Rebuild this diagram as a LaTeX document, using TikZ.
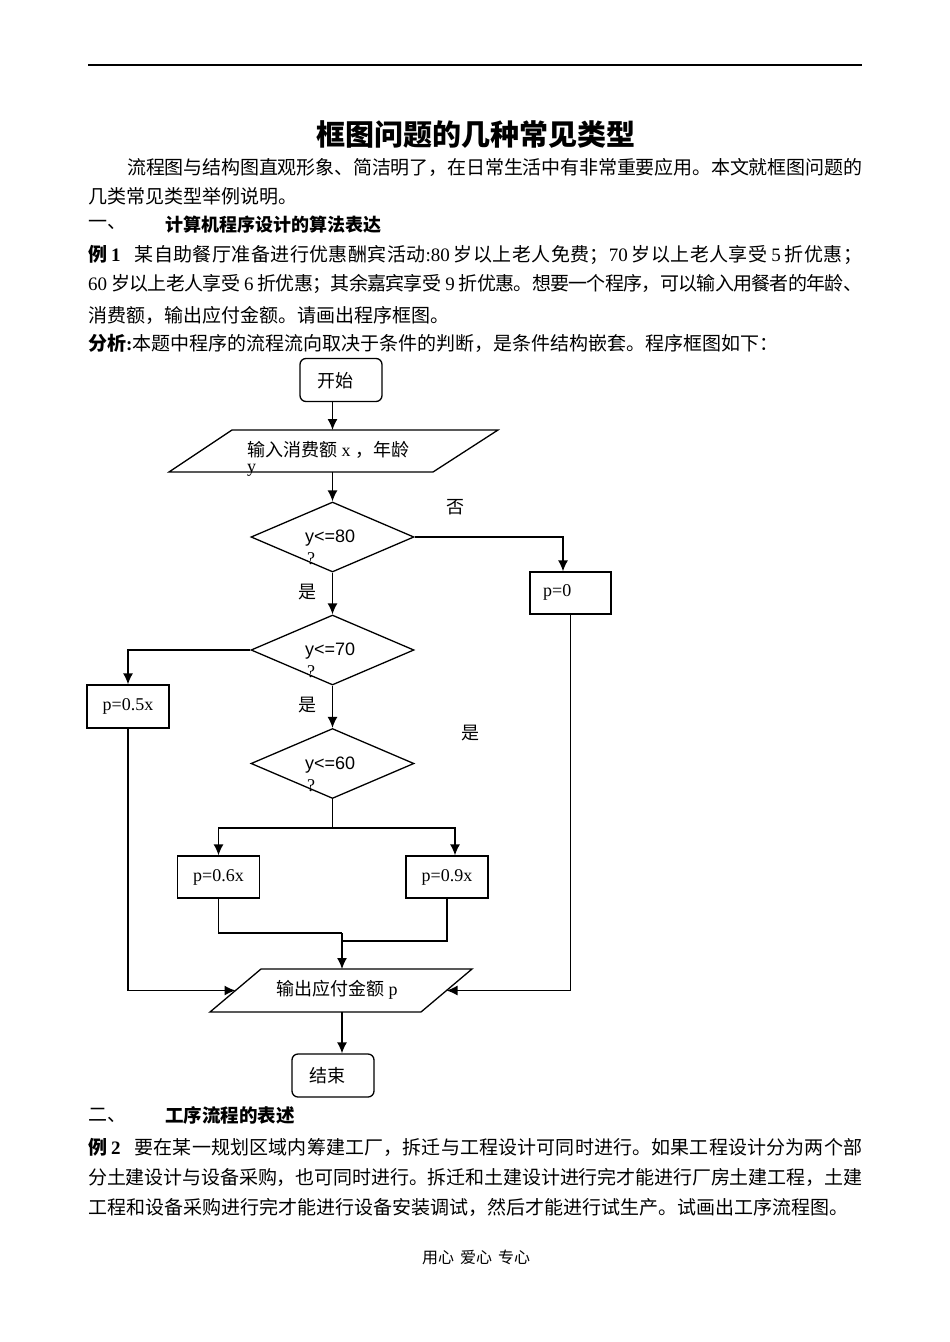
\documentclass[tikz,border=0pt]{standalone}
\usepackage{fontspec}
\setmainfont{Liberation Serif}
\newfontfamily\cjk{Noto Sans CJK SC}
\newfontfamily\arialf{Liberation Sans}
\usetikzlibrary{arrows.meta,shapes.geometric}
% inter-character glue between CJK characters (for justified lines)
\XeTeXinterchartokenstate=1
\newXeTeXintercharclass\cjkcls
\newcount\cjkcnt
\cjkcnt="3000
\loop\ifnum\cjkcnt<"A000 \XeTeXcharclass\cjkcnt=\cjkcls \advance\cjkcnt by 1 \repeat
\cjkcnt="FF01
\loop\ifnum\cjkcnt<"FF5F \XeTeXcharclass\cjkcnt=\cjkcls \advance\cjkcnt by 1 \repeat
\XeTeXinterchartoks\cjkcls\cjkcls={\hskip 0pt plus 3pt minus 1pt\relax}
\newcommand\gs{\hspace{4pt}}
\newcommand\jl[1]{\hbox to 774pt{#1}}
\tikzset{
  txt/.style={anchor=west,inner sep=0pt,font=\fontsize{19pt}{21pt}\selectfont},
  lbl/.style={inner sep=0pt,font=\fontsize{18pt}{20pt}\selectfont},
  lblw/.style={lbl,anchor=west},
  cond/.style={lbl,anchor=west,font=\fontsize{18pt}{20pt}\arialf},
  shp/.style={draw,line width=1.3pt},
  conn/.style={line width=1.3pt},
  arr/.style={line width=1.3pt,-{Latex[length=11pt,width=10pt]}},
  term/.style={shp,rounded corners=6pt,inner sep=0pt,minimum width=82pt,minimum height=43pt},
  proc/.style={shp,inner sep=0pt,minimum width=82pt,minimum height=42pt,font=\fontsize{18pt}{20pt}\selectfont},
  dec/.style={shp,diamond,inner sep=0pt,minimum width=163pt,minimum height=70pt},
}
\begin{document}
\begin{tikzpicture}[x=1pt,y=-1pt]
\useasboundingbox (0,0) rectangle (950,1342);
\fill[white] (0,0) rectangle (950,1342);
% top rule
\draw[line width=1.5pt] (88,65) -- (862,65);
% title
\node[inner sep=0pt,font={\fontsize{29pt}{31pt}\cjk\bfseries}] (title) at (476,135) {框图问题的几种常见类型};
% paragraph
\node[txt] (p1) at (88,167) {\jl{\hspace*{39pt}{\cjk 流程图与结构图直观形象、简洁明了，在日常生活中有非常重要应用。本文就框图问题的}}};
\node[txt] (p2) at (88,196) {{\cjk 几类常见类型举例说明。}};
\node[txt] (h1a) at (88,225) {{\cjk 一、}};
\node[txt,font={\fontsize{18pt}{20pt}\cjk\bfseries}] (h1b) at (165,225) {计算机程序设计的算法表达};
\node[txt] (e1) at (88,255) {\jl{{\cjk\bfseries 例}\gs\textbf{1}\hspace{14pt}{\cjk 某自助餐厅准备进行优惠酬宾活动}:80\gs{\cjk 岁以上老人免费；}70\gs{\cjk 岁以上老人享受}\gs5\gs{\cjk 折优惠；}}};
\node[txt] (e2) at (88,284) {\jl{60\gs{\cjk 岁以上老人享受}\gs6\gs{\cjk 折优惠；其余嘉宾享受}\gs9\gs{\cjk 折优惠。想要一个程序，可以输入用餐者的年龄、}}};
\node[txt] (e3) at (88,315) {{\cjk 消费额，输出应付金额。请画出程序框图。}};
\node[txt] (a1) at (88,343) {{\cjk\bfseries 分析}\textbf{:}{\cjk 本题中程序的流程流向取决于条件的判断，是条件结构嵌套。程序框图如下：}};

% ---------- flowchart ----------
\node[term] (start) at (341,380) {};
\node[lblw] (startT) at (317,381) {\cjk 开始};

\coordinate (inTL) at (232,430);
\coordinate (inTR) at (498,430);
\coordinate (inBR) at (433,472);
\coordinate (inBL) at (169,472);
\draw[shp] (inTL) -- (inTR) -- (inBR) -- (inBL) -- cycle;
\coordinate (inN) at (332.5,430);
\coordinate (inS) at (332.5,472);
\node[lblw] (inT1) at (247,450) {{\cjk 输入消费额} x {\cjk ，年龄}};
\node[lblw] (inT2) at (247,470) {y};

\node[dec] (d1) at (332.5,537) {};
\node[cond] (d1a) at (305,538) {y<=80};
\node[lblw] (d1b) at (307,559) {?};

\node[proc,minimum width=81pt] (p0) at (570.5,593) {};
\node[lblw] (p0T) at (543,592) {p=0};

\node[dec] (d2) at (332.5,650) {};
\node[cond] (d2a) at (305,651) {y<=70};
\node[lblw] (d2b) at (307,672) {?};

\node[proc,minimum height=43pt] (p5) at (128,706.5) {p=0.5x};

\node[dec] (d3) at (332.5,763.5) {};
\node[cond] (d3a) at (305,765) {y<=60};
\node[lblw] (d3b) at (307,786) {?};

\coordinate (split) at (332.5,828);
\node[proc] (p6) at (218.5,877) {p=0.6x};
\node[proc] (p9) at (447,877) {p=0.9x};

\coordinate (m1) at (342,933);
\coordinate (m2) at (342,941);

\coordinate (oTL) at (261,969);
\coordinate (oTR) at (472,969);
\coordinate (oBR) at (421,1012);
\coordinate (oBL) at (210,1012);
\draw[shp] (oTL) -- (oTR) -- (oBR) -- (oBL) -- cycle;
\coordinate (outN) at (342,969);
\coordinate (outS) at (342,1012);
\coordinate (outW) at (235.5,990.5);
\coordinate (outE) at (446.5,990.5);
\node[lblw] (outT) at (276,990) {{\cjk 输出应付金额} p};

\node[term] (end) at (333,1075.5) {};
\node[lblw] (endT) at (309,1076) {\cjk 结束};

% labels
\node[lbl] (no1) at (455,507) {\cjk 否};
\node[lbl] (yes1) at (307,592) {\cjk 是};
\node[lbl] (yes2) at (307,705) {\cjk 是};
\node[lbl] (yes3) at (470,733) {\cjk 是};

% connectors
\draw[arr] (start.south -| inN) -- (inN);
\draw[arr] (inS) -- (d1.north);
\draw[arr] (d1.east) -| ([xshift=-7.5pt]p0.north);
\draw[arr] (d1.south) -- (d2.north);
\draw[arr] (d2.west) -| (p5.north);
\draw[arr] (d2.south) -- (d3.north);
\draw[conn] (d3.south) -- (split);
\draw[arr] (split) -| (p6.north);
\draw[arr] (split) -| ([xshift=8pt]p9.north);
\draw[conn] (p6.south) |- (m1);
\draw[conn] (p9.south) |- (m2);
\draw[arr] (m1) -- (outN);
\draw[arr] (p5.south) |- (outW);
\draw[arr] (p0.south) |- (outE);
\draw[arr] (outS) -- (outS |- end.north);

% ---------- section two ----------
\node[txt] (h2a) at (88,1115) {{\cjk 二、}};
\node[txt,font={\fontsize{18.5pt}{20pt}\cjk\bfseries}] (h2b) at (165,1115) {工序流程的表述};
\node[txt] (f1) at (88,1147) {\jl{{\cjk\bfseries 例}\gs\textbf{2}\hspace{14pt}{\cjk 要在某一规划区域内筹建工厂，拆迁与工程设计可同时进行。如果工程设计分为两个部}}};
\node[txt] (f2) at (88,1177) {\jl{{\cjk 分土建设计与设备采购，也可同时进行。拆迁和土建设计进行完才能进行厂房土建工程，土建}}};
\node[txt] (f3) at (88,1207) {{\cjk 工程和设备采购进行完才能进行设备安装调试，然后才能进行试生产。试画出工序流程图。}};

\node[inner sep=0pt,font={\fontsize{16pt}{18pt}\cjk}] (foot) at (476,1257) {用心\hspace{6pt}爱心\hspace{6pt}专心};
\end{tikzpicture}
\end{document}
